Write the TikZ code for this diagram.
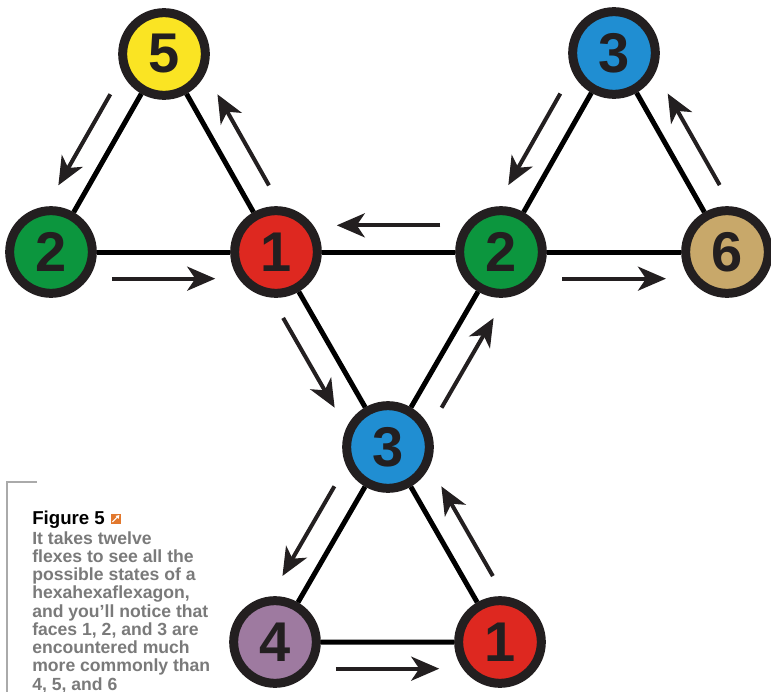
\documentclass[tikz,border=0pt]{standalone}
\usepackage{fontspec}
\setmainfont{Liberation Sans}
\usetikzlibrary{arrows.meta,calc}
\definecolor{ring}{RGB}{35,31,32}
\definecolor{faceyellow}{RGB}{250,228,35}
\definecolor{facegreen}{RGB}{12,150,62}
\definecolor{facered}{RGB}{222,40,32}
\definecolor{faceblue}{RGB}{32,142,210}
\definecolor{facetan}{RGB}{200,168,106}
\definecolor{facepurple}{RGB}{158,122,160}
\definecolor{captiongray}{RGB}{122,122,122}
\definecolor{bracketgray}{RGB}{170,170,170}
\definecolor{iconorange}{RGB}{226,120,45}
\tikzset{
	face/.style={circle, draw=ring, line width=6.75pt, minimum size=62pt, inner sep=0pt, text=ring, font=\fontsize{42}{42}\selectfont\bfseries},
	link/.style={line width=3.75pt, black},
	flex/.style={->, line width=3pt, ring},
}
\begin{document}
\begin{tikzpicture}[x=0.75pt,y=-0.75pt,>={Stealth[length=21pt,width=18pt,inset=6pt]}]
	\useasboundingbox (0,0) rectangle (771,692);
	% faces
	\node[face, fill=faceyellow] (f5) at (164,54) {5};
	\node[face, fill=faceblue] (f3t) at (614,53) {3};
	\node[face, fill=facegreen] (f2l) at (51,252) {2};
	\node[face, fill=facered] (f1) at (276,252) {1};
	\node[face, fill=facegreen] (f2) at (501,252) {2};
	\node[face, fill=facetan] (f6) at (727,252) {6};
	\node[face, fill=faceblue] (f3) at (388,447) {3};
	\node[face, fill=facepurple] (f4) at (275,642) {4};
	\node[face, fill=facered] (f1b) at (500,642) {1};
	% edges
	\draw[link] (f2l) -- (f1) -- (f2) -- (f6);
	\draw[link] (f2l) -- (f5) -- (f1) -- (f3) -- (f2) -- (f3t) -- (f6);
	\draw[link] (f3) -- (f4) -- (f1b) -- (f3);
	% the twelve flexes
	\foreach \a/\b in {f2l/f1, f1/f3, f3/f4, f4/f1b, f1b/f3, f3/f2, f2/f6, f6/f3t, f3t/f2, f2/f1, f1/f5, f5/f2l}
		\draw[flex] ($(\a)!0.27!(\b)!20pt!-90:(\b)$) -- ($(\a)!0.73!(\b)!20pt!-90:(\b)$);
	% caption
	\draw[bracketgray, line width=1.2pt] (37,482) -- (7,482) -- (7,700);
	\node[anchor=base west, inner sep=0pt, font=\fontsize{14}{16}\selectfont\bfseries] (title) at (32,524) {Figure 5};
	\node[anchor=south west, fill=iconorange, minimum size=7.5pt, inner sep=0pt] (icon) at ([xshift=4pt]title.base east) {};
	\draw[white, line width=0.8pt, -{Triangle[length=2.5pt,width=3pt]}] ([shift={(1.5pt,1.5pt)}]icon.south west) -- ([shift={(-1.2pt,-1.2pt)}]icon.north east);
	\node[anchor=north west, inner sep=0pt, align=left, text=captiongray, font=\fontsize{13.2}{13.7}\selectfont\bfseries] (caption) at (32,531)
		{It takes twelve\\flexes to see all the\\possible states of a\\hexahexaflexagon,\\and you’ll notice that\\faces 1, 2, and 3 are\\encountered much\\more commonly than\\4, 5, and 6};
\end{tikzpicture}
\end{document}
